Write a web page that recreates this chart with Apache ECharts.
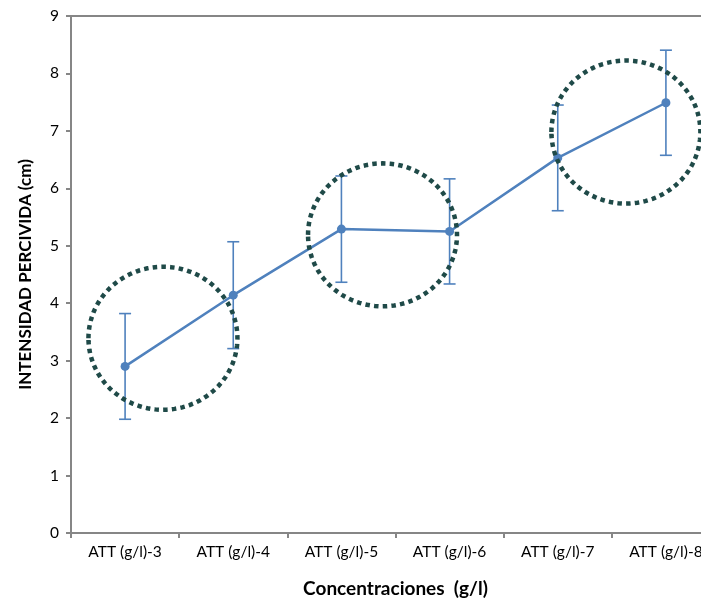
<!DOCTYPE html>
<html>
<head>
<meta charset="utf-8">
<script src="https://cdn.jsdelivr.net/npm/echarts@6/dist/echarts.min.js"></script>
<style>
html,body{margin:0;padding:0;background:#fff;}
#chart{width:701px;height:598px;}
</style>
</head>
<body>
<div id="chart"></div>
<script>
const categories = ['ATT (g/l)-3', 'ATT (g/l)-4', 'ATT (g/l)-5', 'ATT (g/l)-6', 'ATT (g/l)-7', 'ATT (g/l)-8'];
const means = [2.9, 4.14, 5.29, 5.25, 6.53, 7.49];
const errors = [0.92, 0.93, 0.925, 0.915, 0.92, 0.915];
// highlight ellipse centres: [category position (fractional index), value]
const highlightCenters = [[0.35, 3.39], [2.38, 5.19], [4.63, 6.98]];
const yMin = 0, yMax = 9, yStep = 1;

const axisColor = '#868686';
const seriesColor = '#4f81bd';
const font = 'Lato, "Open Sans", sans-serif';

const chart = echarts.init(document.getElementById('chart'), null, {renderer: 'canvas'});

const option = {
  animation: false,
  grid: {left: 71, width: 649, top: 16, height: 517, containLabel: false, outerBoundsMode: 'none'},
  xAxis: [{
    type: 'category',
    data: categories,
    boundaryGap: true,
    name: 'Concentraciones  (g/l)',
    nameLocation: 'middle',
    nameGap: 46,
    nameTextStyle: {fontFamily: font, fontWeight: 'bold', fontSize: 19, color: '#000'},
    axisLine: {lineStyle: {color: axisColor, width: 2}},
    axisTick: {show: true, alignWithLabel: false, length: 5, lineStyle: {color: axisColor, width: 2}},
    axisLabel: {fontFamily: font, fontSize: 15.5, color: '#000', margin: 11, interval: 0},
    splitLine: {show: false}
  }, {
    type: 'category',
    data: categories,
    position: 'top',
    axisLine: {show: true, lineStyle: {color: axisColor, width: 2}},
    axisTick: {show: false},
    axisLabel: {show: false},
    splitLine: {show: false}
  }],
  yAxis: {
    type: 'value',
    min: yMin, max: yMax, interval: yStep,
    name: 'INTENSIDAD PERCIVIDA (cm)',
    nameLocation: 'middle',
    nameGap: 37,
    nameTextStyle: {fontFamily: font, fontWeight: 'bold', fontSize: 17, color: '#000'},
    axisLine: {show: true, lineStyle: {color: axisColor, width: 2}},
    axisTick: {show: true, length: 5, lineStyle: {color: axisColor, width: 2}},
    axisLabel: {fontFamily: font, fontSize: 15.5, color: '#000', margin: 12},
    splitLine: {show: false}
  },
  series: [
    {
      type: 'custom',
      name: 'error',
      z: 2,
      data: categories.map((c, i) => [i, means[i] - errors[i], means[i] + errors[i]]),
      encode: {x: 0, y: [1, 2]},
      renderItem: function (params, api) {
        const i = api.value(0);
        const lo = api.coord([i, api.value(1)]);
        const hi = api.coord([i, api.value(2)]);
        const cap = 6;
        const style = {stroke: seriesColor, lineWidth: 1.6, fill: null};
        return {
          type: 'group',
          children: [
            {type: 'line', shape: {x1: lo[0], y1: lo[1], x2: hi[0], y2: hi[1]}, style: style},
            {type: 'line', shape: {x1: lo[0] - cap, y1: lo[1], x2: lo[0] + cap, y2: lo[1]}, style: style},
            {type: 'line', shape: {x1: hi[0] - cap, y1: hi[1], x2: hi[0] + cap, y2: hi[1]}, style: style}
          ]
        };
      }
    },
    {
      type: 'line',
      name: 'mean',
      z: 3,
      data: means,
      symbol: 'circle',
      symbolSize: 9,
      lineStyle: {color: seriesColor, width: 2.5},
      itemStyle: {color: seriesColor}
    },
    {
      type: 'custom',
      name: 'highlight',
      z: 5,
      clip: false,
      data: highlightCenters.map(h => [0, h[1], h[0]]),
      encode: {x: 0, y: 1},
      renderItem: function (params, api) {
        const base = api.coord([0, api.value(1)]);
        const band = api.size([1, 0])[0];
        const cx = base[0] + api.value(2) * band;
        const cy = base[1];
        const rx = 74.5, ry = 71.5;
        const pts = [];
        const n = 120;
        for (let k = 0; k <= n; k++) {
          const a = Math.PI + 2 * Math.PI * k / n;
          pts.push([cx + rx * Math.cos(a), cy + ry * Math.sin(a)]);
        }
        return {
          type: 'polyline',
          shape: {points: pts},
          style: {stroke: '#1f4a48', lineWidth: 4.5, fill: null, lineDash: [4.5, 4.2], lineCap: 'butt'}
        };
      }
    }
  ]
};
chart.setOption(option);
</script>
</body>
</html>
